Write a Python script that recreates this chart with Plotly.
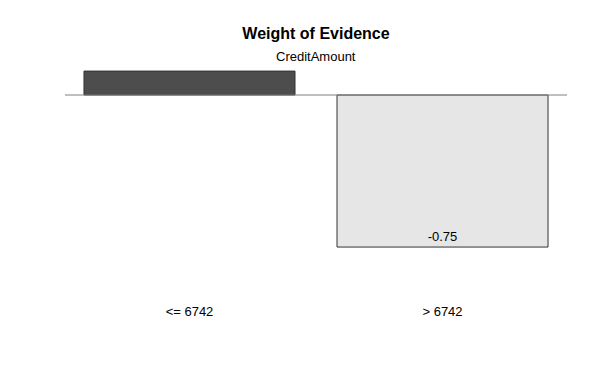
import plotly.graph_objects as go

categories = ["<= 6742", "> 6742"]
woe_values = [0.118, -0.75]
bar_labels = ["", "-0.75"]
bar_colors = ["#4d4d4d", "#e6e6e6"]

fig = go.Figure()
fig.add_trace(go.Bar(
    x=list(range(len(categories))),
    y=woe_values,
    width=0.834,
    marker=dict(color=bar_colors, line=dict(color="#333333", width=1)),
    text=bar_labels,
    textposition="inside",
    insidetextanchor="end",
    textfont=dict(color="black", size=13, family="Liberation Sans, Arial"),
    cliponaxis=False,
    hoverinfo="skip",
))

fig.add_shape(type="line", xref="paper", yref="y", x0=0, x1=1, y0=0, y1=0,
              line=dict(color="#808080", width=1))

fig.update_layout(
    width=600, height=368,
    margin=dict(l=57, r=41, t=57, b=74),
    paper_bgcolor="white", plot_bgcolor="white",
    showlegend=False,
    font=dict(family="Liberation Sans, Arial", size=13, color="black"),
    title=dict(text="<b>Weight of Evidence</b>", x=0.5, xref="paper", xanchor="center",
               y=1 - 25 / 368, yref="container", yanchor="middle",
               font=dict(size=16, color="black")),
    xaxis=dict(range=[-0.492, 1.492], tickvals=list(range(len(categories))),
               ticktext=categories, showgrid=False, zeroline=False, showline=False,
               ticks="", tickfont=dict(size=13, color="black")),
    yaxis=dict(range=[-1.021, 0.148], visible=False, showgrid=False, zeroline=False),
    annotations=[dict(text="CreditAmount", xref="paper", yref="paper", x=0.5, y=1.034,
                      showarrow=False, xanchor="center", yanchor="middle",
                      font=dict(size=13, color="black"))],
)

fig.write_html("out.html")
